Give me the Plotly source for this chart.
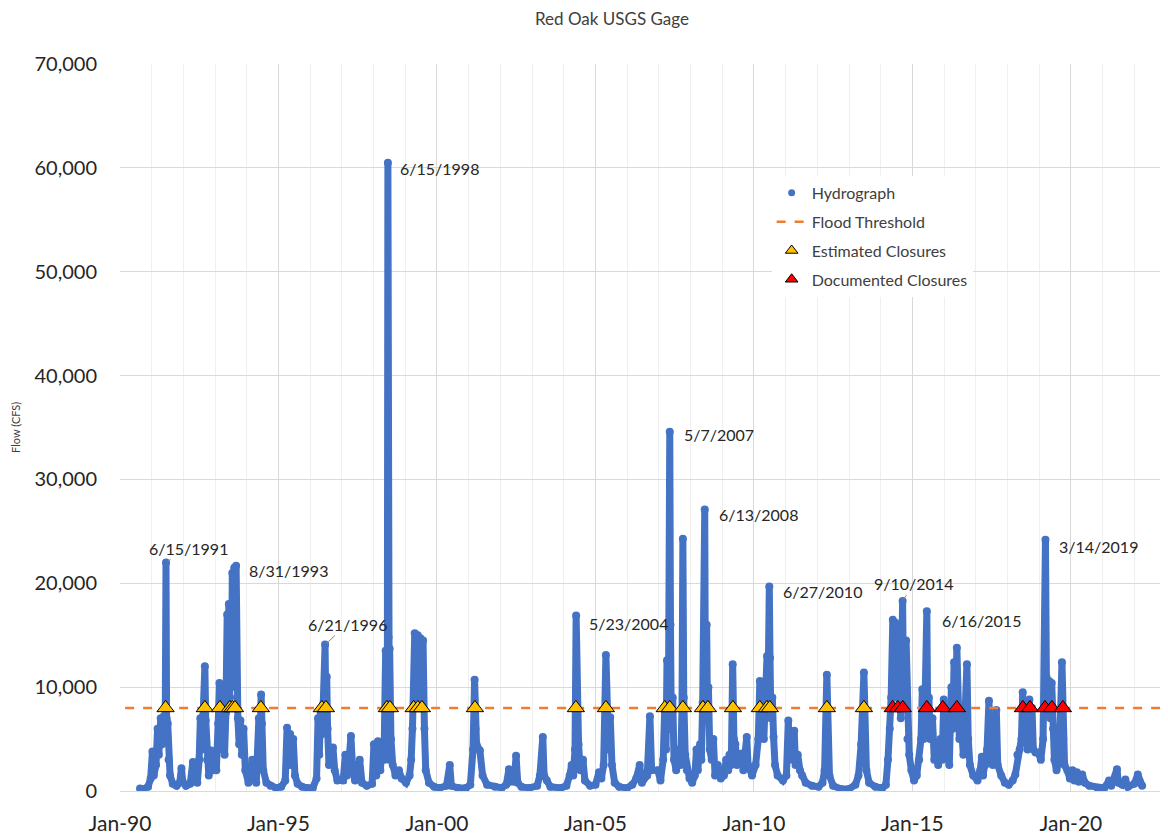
import plotly.graph_objects as go

# ---------------- data ----------------
hydro_dates = [
    "1990-08-20", "1990-10-01", "1990-11-20", "1990-12-20", "1991-01-10", "1991-01-25", "1991-02-20",
    "1991-03-10", "1991-03-25", "1991-04-15", "1991-05-01", "1991-05-20", "1991-06-05", "1991-06-15",
    "1991-06-22", "1991-07-05", "1991-07-15", "1991-08-01", "1991-09-01", "1991-10-15", "1991-11-20",
    "1991-12-10", "1991-12-25", "1992-02-01", "1992-03-20", "1992-04-20", "1992-05-05", "1992-06-10",
    "1992-07-01", "1992-07-15", "1992-08-01", "1992-08-15", "1992-09-05", "1992-09-15", "1992-10-01",
    "1992-10-20", "1992-11-15", "1992-12-10", "1992-12-25", "1993-01-15", "1993-02-05", "1993-02-20",
    "1993-03-05", "1993-03-20", "1993-04-05", "1993-04-20", "1993-05-05", "1993-05-20", "1993-05-28",
    "1993-06-08", "1993-06-18", "1993-06-28", "1993-07-08", "1993-07-18", "1993-07-28", "1993-08-10",
    "1993-08-20", "1993-08-31", "1993-09-10", "1993-09-20", "1993-10-05", "1993-10-20", "1993-11-05",
    "1993-11-25", "1993-12-15", "1994-01-20", "1994-02-20", "1994-03-05", "1994-03-20", "1994-04-20",
    "1994-05-20", "1994-06-01", "1994-06-15", "1994-06-25", "1994-07-10", "1994-08-15", "1994-10-01",
    "1994-12-01", "1995-02-01", "1995-03-20", "1995-04-10", "1995-04-25", "1995-05-15", "1995-06-01",
    "1995-06-20", "1995-07-10", "1995-08-10", "1995-10-01", "1995-12-01", "1996-02-01", "1996-03-15",
    "1996-04-01", "1996-04-15", "1996-05-01", "1996-05-20", "1996-06-05", "1996-06-21", "1996-06-28",
    "1996-07-10", "1996-07-20", "1996-08-05", "1996-09-20", "1996-10-10", "1996-11-10", "1997-01-15",
    "1997-02-10", "1997-03-01", "1997-03-20", "1997-04-15", "1997-05-05", "1997-06-01", "1997-07-25",
    "1997-08-20", "1997-10-15", "1997-12-15", "1998-01-05", "1998-02-01", "1998-02-20", "1998-03-20",
    "1998-04-10", "1998-05-01", "1998-05-20", "1998-06-08", "1998-06-15", "1998-06-22", "1998-07-01",
    "1998-07-05", "1998-07-20", "1998-08-10", "1998-09-10", "1998-10-20", "1998-11-20", "1999-01-10",
    "1999-02-20", "1999-03-10", "1999-03-25", "1999-04-20", "1999-05-05", "1999-05-25", "1999-06-10",
    "1999-06-25", "1999-07-10", "1999-07-25", "1999-08-10", "1999-08-25", "1999-10-01", "1999-12-01",
    "2000-02-01", "2000-04-20", "2000-05-28", "2000-06-15", "2000-09-01", "2000-12-01", "2001-01-20",
    "2001-02-20", "2001-03-10", "2001-03-20", "2001-04-01", "2001-05-10", "2001-06-10", "2001-08-01",
    "2001-11-01", "2002-01-15", "2002-03-10", "2002-04-10", "2002-04-25", "2002-05-20", "2002-06-10",
    "2002-07-01", "2002-07-20", "2002-09-01", "2002-12-01", "2003-03-01", "2003-04-01", "2003-05-05",
    "2003-05-20", "2003-06-20", "2003-08-01", "2003-12-01", "2004-02-01", "2004-03-10", "2004-04-01",
    "2004-04-20", "2004-05-10", "2004-05-23", "2004-06-01", "2004-06-20", "2004-07-10", "2004-08-10",
    "2004-09-01", "2004-11-01", "2005-01-01", "2005-02-10", "2005-03-10", "2005-04-05", "2005-05-01",
    "2005-05-15", "2005-06-01", "2005-06-20", "2005-07-10", "2005-08-10", "2005-10-01", "2006-01-01",
    "2006-03-01", "2006-04-15", "2006-05-25", "2006-06-20", "2006-08-20", "2006-09-20", "2006-10-10",
    "2006-12-20", "2007-01-20", "2007-02-20", "2007-03-10", "2007-03-25", "2007-04-05", "2007-04-20",
    "2007-05-07", "2007-05-15", "2007-05-25", "2007-06-10", "2007-06-25", "2007-07-20", "2007-08-20",
    "2007-09-10", "2007-09-25", "2007-10-05", "2007-10-15", "2007-11-01", "2007-11-20", "2007-12-20",
    "2008-01-20", "2008-02-20", "2008-03-10", "2008-03-25", "2008-04-20", "2008-05-05", "2008-05-20",
    "2008-06-13", "2008-06-20", "2008-07-05", "2008-07-15", "2008-07-25", "2008-08-10", "2008-09-01",
    "2008-09-20", "2008-10-10", "2008-11-10", "2008-12-15", "2009-01-20", "2009-02-15", "2009-03-10",
    "2009-03-25", "2009-04-15", "2009-05-01", "2009-05-15", "2009-06-01", "2009-06-20", "2009-08-15",
    "2009-09-01", "2009-10-10", "2009-10-25", "2009-12-10", "2010-01-20", "2010-02-20", "2010-03-10",
    "2010-03-20", "2010-04-10", "2010-04-25", "2010-05-15", "2010-06-01", "2010-06-10", "2010-06-27",
    "2010-07-05", "2010-07-15", "2010-08-01", "2010-08-15", "2010-09-01", "2010-10-01", "2010-12-01",
    "2011-01-10", "2011-02-01", "2011-02-15", "2011-03-10", "2011-04-10", "2011-04-25", "2011-05-20",
    "2011-06-15", "2011-07-10", "2011-08-20", "2011-11-01", "2012-01-15", "2012-03-01", "2012-03-25",
    "2012-04-20", "2012-05-01", "2012-05-20", "2012-07-01", "2012-10-01", "2013-01-01", "2013-03-15",
    "2013-04-20", "2013-05-20", "2013-06-21", "2013-07-01", "2013-07-20", "2013-08-20", "2013-11-01",
    "2014-01-20", "2014-03-01", "2014-03-25", "2014-04-15", "2014-05-01", "2014-05-20", "2014-06-01",
    "2014-06-20", "2014-07-01", "2014-07-15", "2014-08-01", "2014-08-20", "2014-09-10", "2014-09-20",
    "2014-10-20", "2014-11-05", "2014-11-25", "2014-12-20", "2015-01-20", "2015-02-20", "2015-03-20",
    "2015-04-10", "2015-04-25", "2015-05-10", "2015-05-25", "2015-06-16", "2015-06-25", "2015-07-10",
    "2015-07-25", "2015-08-20", "2015-09-10", "2015-10-05", "2015-10-25", "2015-11-20", "2015-12-10",
    "2015-12-28", "2016-01-10", "2016-02-01", "2016-03-01", "2016-03-25", "2016-04-10", "2016-04-25",
    "2016-05-10", "2016-05-27", "2016-06-10", "2016-06-25", "2016-07-20", "2016-08-10", "2016-09-01",
    "2016-09-20", "2016-10-05", "2016-10-25", "2016-12-01", "2017-01-20", "2017-02-20", "2017-03-10",
    "2017-03-25", "2017-04-20", "2017-05-10", "2017-06-01", "2017-06-15", "2017-07-15", "2017-08-10",
    "2017-08-25", "2017-09-10", "2017-10-20", "2017-12-01", "2018-01-15", "2018-03-01", "2018-04-01",
    "2018-04-25", "2018-05-20", "2018-06-10", "2018-06-25", "2018-07-10", "2018-07-25", "2018-08-20",
    "2018-09-10", "2018-09-25", "2018-10-10", "2018-10-25", "2018-11-20", "2018-12-20", "2019-01-20",
    "2019-02-15", "2019-03-14", "2019-03-25", "2019-04-10", "2019-04-25", "2019-05-10", "2019-05-25",
    "2019-06-10", "2019-06-25", "2019-07-20", "2019-08-20", "2019-09-20", "2019-10-05", "2019-10-20",
    "2019-11-20", "2019-12-20", "2020-01-20", "2020-02-10", "2020-03-10", "2020-04-01", "2020-05-10",
    "2020-06-10", "2020-08-01", "2020-11-01", "2021-01-20", "2021-03-15", "2021-04-10", "2021-06-15",
    "2021-07-01", "2021-08-15", "2021-09-20", "2021-10-20", "2022-01-01", "2022-02-10", "2022-03-10",
    "2022-04-01",
]
hydro_flow = [
    250, 200, 400, 1200, 3800, 1500, 2500,
    6000, 3500, 7000, 4500, 7200, 5000, 22000,
    7000, 6500, 3000, 1500, 700, 500, 800,
    2200, 900, 500, 700, 2800, 1200, 800,
    3000, 7000, 4000, 7200, 12000, 6800, 3000,
    1500, 3900, 2000, 3500, 2000, 6500, 10400,
    6500, 4000, 7000, 3500, 7500, 17000, 8000,
    18000, 9000, 16500, 10000, 21000, 12000, 21500,
    13000, 21700, 9000, 7000, 4500, 6800, 3500,
    6000, 2000, 800, 1200, 3000, 1200, 800,
    7000, 4000, 9300, 6500, 2000, 800, 500,
    300, 400, 1000, 6100, 2500, 5500, 2500,
    5000, 1500, 700, 400, 300, 300, 1200,
    7000, 3500, 7500, 5500, 8500, 14100, 9000,
    11000, 6000, 2500, 4200, 2000, 1000, 1000,
    3500, 1500, 2500, 5300, 2000, 1000, 3000,
    800, 500, 700, 4500, 1500, 4800, 2000,
    4500, 3000, 13500, 6000, 60500, 14800, 3000,
    13700, 5000, 2500, 1500, 2000, 1200, 800,
    1500, 3000, 6000, 15200, 9000, 15000, 10000,
    14700, 8000, 14500, 6000, 2000, 800, 400,
    300, 500, 2500, 500, 300, 300, 600,
    4000, 10700, 6000, 4500, 3900, 1500, 600,
    400, 300, 600, 2100, 900, 1900, 900,
    3400, 800, 400, 300, 500, 1500, 5200,
    1500, 1000, 400, 300, 500, 1500, 2500,
    1500, 4000, 16900, 5500, 4500, 2000, 3000,
    1000, 500, 600, 1800, 1200, 2500, 13100,
    7000, 4000, 7100, 2500, 800, 400, 300,
    600, 1200, 2500, 800, 1500, 7200, 2000,
    2000, 1000, 3000, 8000, 4000, 12600, 6000,
    34600, 16000, 6000, 9000, 3000, 2000, 4000,
    2500, 8000, 24300, 9000, 3500, 2000, 1200,
    800, 1500, 4000, 2000, 4500, 3000, 8500,
    27100, 10000, 16000, 7000, 10000, 4000, 3000,
    5000, 1500, 2500, 1200, 1500, 3000, 2000,
    3500, 2500, 12200, 5000, 4500, 2500, 3600,
    2000, 5200, 2500, 1500, 2500, 5000, 10600,
    6000, 7500, 5000, 9500, 13000, 8000, 19700,
    12800, 7000, 9000, 5200, 2500, 1500, 1000,
    1500, 6800, 3000, 4000, 5800, 2500, 3500,
    2000, 1500, 800, 500, 400, 800, 2000,
    11200, 3000, 1500, 500, 200, 200, 600,
    1500, 4500, 11400, 5000, 2000, 800, 400,
    300, 600, 3000, 6000, 9000, 16500, 9000,
    16200, 9000, 14000, 11000, 7000, 18300, 10000,
    14500, 5000, 3500, 2000, 1000, 1500, 3000,
    5000, 9800, 5000, 8000, 17300, 8000, 9000,
    5000, 7000, 3000, 4500, 2500, 5000, 3000,
    8800, 5000, 4000, 2500, 10000, 6000, 12400,
    7000, 13800, 8000, 5000, 6000, 3500, 8000,
    12200, 5000, 2500, 1500, 1000, 2000, 3300,
    1500, 2500, 4000, 8700, 3000, 2500, 4000,
    7800, 2500, 1500, 800, 600, 1000, 1600,
    3500, 4000, 5000, 9500, 5000, 7000, 4000,
    8800, 5000, 8000, 4000, 3700, 3700, 3000,
    5000, 24200, 11000, 9500, 10600, 7000, 10400,
    6000, 3000, 2000, 3000, 12400, 5000, 2500,
    2000, 1200, 2000, 1000, 1800, 900, 1600,
    800, 500, 300, 300, 1000, 500, 2100,
    800, 600, 1100, 400, 700, 1600, 800,
    500,
]

threshold_dates = ["1990-03-01", "2023-01-01"]
threshold_flow = [8000, 8000]

estimated_dates = [
    "1991-06-10", "1992-09-05", "1993-02-25", "1993-06-20", "1993-07-22", "1993-08-18",
    "1994-06-12", "1996-05-15", "1996-07-01", "1998-06-03", "1998-07-08", "1999-04-08",
    "1999-05-26", "1999-07-12", "2001-03-14", "2004-05-20", "2005-05-01", "2007-03-10",
    "2007-05-07", "2007-10-05", "2008-05-23", "2008-07-19", "2009-05-04", "2010-03-10",
    "2010-05-30", "2010-07-03", "2012-04-20", "2013-06-21",
]
documented_dates = [
    "2014-05-19", "2014-07-16", "2014-09-12", "2015-06-16", "2015-12-17", "2016-05-27",
    "2018-06-27", "2018-09-17", "2019-03-08", "2019-05-27", "2019-10-01",
]
closure_flow = 8000

peak_labels = ["6/15/1991", "8/31/1993", "6/21/1996", "6/15/1998", "5/23/2004", "5/7/2007",
               "6/13/2008", "6/27/2010", "9/10/2014", "6/16/2015", "3/14/2019"]
peak_dates = ["1991-06-15", "1993-08-31", "1996-06-21", "1998-06-15", "2004-05-23", "2007-05-07",
              "2008-06-13", "2010-06-27", "2014-09-10", "2015-06-16", "2019-03-14"]
peak_flow = [22000, 21700, 14100, 60500, 16900, 34600, 27100, 19700, 18300, 17300, 24200]

# ---------------- styling ----------------
BLUE = "#4472C4"
FONT = "Lato"

fig = go.Figure()

fig.add_trace(go.Scatter(
    x=hydro_dates, y=hydro_flow, mode="lines+markers",
    line=dict(color=BLUE, width=7), marker=dict(color=BLUE, size=8),
    showlegend=False, hoverinfo="skip",
))
fig.add_trace(go.Scatter(
    x=threshold_dates, y=threshold_flow, mode="lines", showlegend=False,
    line=dict(color="#ED7D31", width=2.5, dash="dash"), hoverinfo="skip",
))
fig.add_trace(go.Scatter(
    x=estimated_dates, y=[closure_flow] * len(estimated_dates), mode="markers", showlegend=False,
    marker=dict(symbol="triangle-up", size=15, color="#FFC000", line=dict(color="#000000", width=1)),
))
fig.add_trace(go.Scatter(
    x=documented_dates, y=[closure_flow] * len(documented_dates), mode="markers", showlegend=False,
    marker=dict(symbol="triangle-up", size=15, color="#FF0000", line=dict(color="#000000", width=1)),
))

# legend entries
fig.add_trace(go.Scatter(x=[None], y=[None], mode="markers", name="Hydrograph",
                         marker=dict(color=BLUE, size=7), legendgroup="a"))
fig.add_trace(go.Scatter(x=[None], y=[None], mode="lines", name="Flood Threshold",
                         line=dict(color="#ED7D31", width=2.5, dash="dash"), legendgroup="b"))
fig.add_trace(go.Scatter(x=[None], y=[None], mode="markers", name="Estimated Closures", legendgroup="c",
                         marker=dict(symbol="triangle-up", size=11, color="#FFC000",
                                     line=dict(color="#000000", width=1))))
fig.add_trace(go.Scatter(x=[None], y=[None], mode="markers", name="Documented Closures", legendgroup="d",
                         marker=dict(symbol="triangle-up", size=11, color="#FF0000",
                                     line=dict(color="#000000", width=1))))

# peak labels: (kind, dx, dy) pixel offsets
label_style = {
    "6/15/1991": ("arrow", 22, -14),
    "8/31/1993": ("shift", 11, 5),
    "6/21/1996": ("arrow", 22, -20),
    "6/15/1998": ("shift", 10, 6),
    "5/23/2004": ("shift", 11, 8),
    "5/7/2007": ("shift", 12, 3),
    "6/13/2008": ("shift", 12, 5),
    "6/27/2010": ("shift", 12, 5),
    "9/10/2014": ("arrow", 11, -17),
    "6/16/2015": ("shift", 13, 9),
    "3/14/2019": ("shift", 12, 7),
}
for lab, d, f in zip(peak_labels, peak_dates, peak_flow):
    kind, dx, dy = label_style[lab]
    if kind == "arrow":
        fig.add_annotation(x=d, y=f, text=lab, showarrow=True, arrowhead=0,
                           arrowwidth=1, arrowcolor="#8C8C8C", ax=dx, ay=dy,
                           standoff=2, font=dict(family=FONT, size=16, color="#262626"))
    else:
        fig.add_annotation(x=d, y=f, text=lab, showarrow=False, xanchor="left",
                           xshift=dx, yshift=-dy,
                           font=dict(family=FONT, size=16, color="#262626"))

fig.add_annotation(xref="paper", yref="paper", x=0.4703, y=1.063, text="Red Oak USGS Gage",
                   showarrow=False, xanchor="center", yanchor="middle",
                   font=dict(family=FONT, size=17, color="#404040"))
fig.add_annotation(xref="paper", yref="paper", x=-0.1, y=0.5, text="Flow (CFS)",
                   textangle=-90, showarrow=False, xanchor="center", yanchor="middle",
                   font=dict(family=FONT, size=11, color="#404040"))

# page body has an 8px margin, so the figure is sized/offset to fit the 1168x837 window
fig.update_layout(
    width=1160, height=829,
    margin=dict(l=112, r=2, t=56, b=43),
    paper_bgcolor="white", plot_bgcolor="white",
    font=dict(family=FONT, color="#262626"),
    legend=dict(x=0.623, y=0.846, xanchor="left", yanchor="top",
                bgcolor="white", font=dict(family=FONT, size=16, color="#404040"),
                tracegroupgap=5),
)
fig.update_xaxes(
    type="date", range=["1990-01-01", "2023-01-01"],
    tick0="1990-01-01", dtick="M60", tickformat="%b-%y",
    showgrid=True, gridcolor="#D9D9D9", gridwidth=1,
    minor=dict(dtick="M12", showgrid=True, gridcolor="#EFEFEF", gridwidth=1),
    showline=True, linecolor="#D9D9D9", zeroline=False,
    ticks="", ticklabelstandoff=14,
    tickfont=dict(family=FONT, size=21, color="#262626"),
)
fig.update_yaxes(
    range=[0, 70000], dtick=10000, tickformat=",",
    showgrid=True, gridcolor="#D9D9D9", gridwidth=1,
    showline=False, zeroline=False, ticks="", ticklabelstandoff=22,
    tickfont=dict(family=FONT, size=20, color="#262626"),
)

fig.write_html("out.html")
